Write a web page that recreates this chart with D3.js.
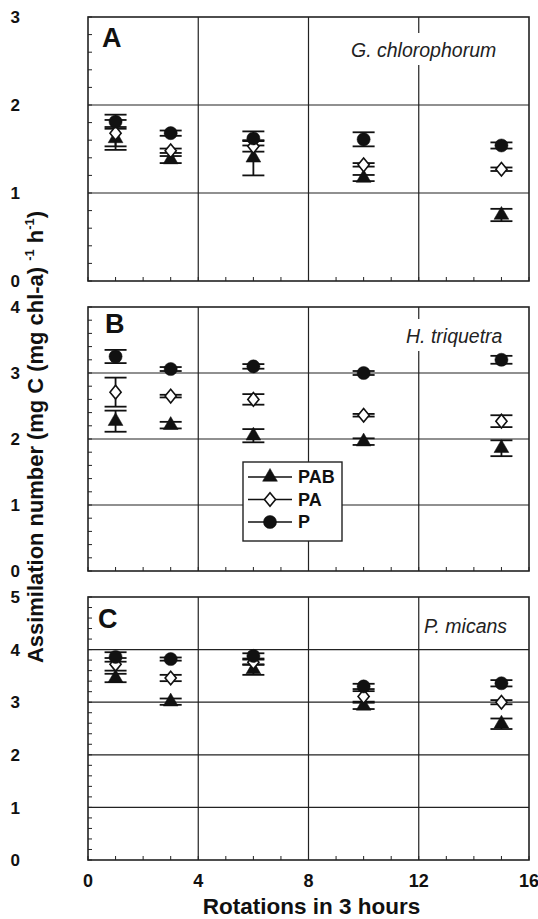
<!DOCTYPE html>
<html>
<head>
<meta charset="utf-8">
<script src="https://cdn.jsdelivr.net/npm/d3@7"></script>
<style>
  body { margin: 0; background: #fff; }
  svg { display: block; font-family: "Liberation Sans", Arial, sans-serif; }
</style>
</head>
<body>
<div id="chart"></div>
<script>
// data
const rotations = [1, 3, 6, 10, 15];
const panelLetters = ["A", "B", "C"];
const speciesNames = ["G. chlorophorum", "H. triquetra", "P. micans"];
const yMaxima = [3, 4, 5];
const xTicks = [0, 4, 8, 12, 16];
const seriesNames = ["PAB", "PA", "P"];

// per panel (A, B, C), one value per rotation
const pabMean = [[1.62, 1.38, 1.40, 1.17, 0.75], [2.27, 2.21, 2.05, 1.96, 1.86], [3.46, 3.01, 3.62, 2.93, 2.59]];
const pabErr  = [[0.13, 0.04, 0.20, 0.035, 0.07], [0.16, 0.05, 0.10, 0.05, 0.12], [0.08, 0.06, 0.10, 0.06, 0.10]];
const paMean  = [[1.68, 1.48, 1.53, 1.32, 1.27], [2.71, 2.65, 2.60, 2.36, 2.27], [3.72, 3.46, 3.76, 3.11, 3.00]];
const paErr   = [[0.15, 0.025, 0.06, 0.02, 0.02], [0.22, 0.02, 0.08, 0.02, 0.09], [0.12, 0.06, 0.05, 0.10, 0.04]];
const pMean   = [[1.81, 1.68, 1.62, 1.61, 1.54], [3.25, 3.06, 3.10, 3.00, 3.20], [3.86, 3.82, 3.88, 3.30, 3.36]];
const pErr    = [[0.08, 0.03, 0.08, 0.08, 0.035], [0.10, 0.03, 0.035, 0.03, 0.06], [0.09, 0.03, 0.05, 0.05, 0.06]];

const W = 538, H = 919;
const left = 88, right = 529;
const panelTops = [17, 307, 597];
const panelBottoms = [281, 571, 860];
const letterPos = [[102, 47], [105, 333], [98, 628]];
const speciesPos = [[351, 57], [406, 343], [424, 633]];

const svg = d3.select("#chart").append("svg")
  .attr("width", W).attr("height", H);

const x = d3.scaleLinear().domain([0, 16]).range([left, right]);

// upright diamond a bit taller than wide
const diamondTall = {
  draw(ctx, size) {
    const h = Math.sqrt(size) * 0.85, w = h * 0.82;
    ctx.moveTo(0, -h); ctx.lineTo(w, 0); ctx.lineTo(0, h); ctx.lineTo(-w, 0); ctx.closePath();
  }
};

const markerSymbol = {
  PAB: d3.symbol().type(d3.symbolTriangle).size(95),
  PA: d3.symbol().type(diamondTall).size(64),
  P: d3.symbol().type(d3.symbolCircle).size(135)
};
const markerFill = { PAB: "#111", PA: "#fff", P: "#111" };
const markerStroke = { PAB: 0.5, PA: 1.6, P: 0.5 };

panelLetters.forEach((letter, pi) => {
  const y = d3.scaleLinear().domain([0, yMaxima[pi]]).range([panelBottoms[pi], panelTops[pi]]);
  const g = svg.append("g");

  // grid
  const majors = d3.range(1, yMaxima[pi]);
  g.selectAll(".hgrid").data(majors).join("line")
    .attr("x1", left).attr("x2", right)
    .attr("y1", d => y(d)).attr("y2", d => y(d))
    .attr("stroke", "#222").attr("stroke-width", 1.2);
  g.selectAll(".vgrid").data([4, 8, 12]).join("line")
    .attr("x1", d => x(d)).attr("x2", d => x(d))
    .attr("y1", y.range()[1]).attr("y2", y.range()[0])
    .attr("stroke", "#222").attr("stroke-width", 1.2);

  // minor ticks inward
  const yMinor = d3.range(0, yMaxima[pi] + 0.001, 0.2);
  g.selectAll(".ytick").data(yMinor).join("line")
    .attr("x1", left).attr("x2", left + 4)
    .attr("y1", d => y(d)).attr("y2", d => y(d))
    .attr("stroke", "#222").attr("stroke-width", 1);
  g.selectAll(".xtick").data(d3.range(0, 17)).join("line")
    .attr("x1", d => x(d)).attr("x2", d => x(d))
    .attr("y1", y(0)).attr("y2", y(0) - 4)
    .attr("stroke", "#222").attr("stroke-width", 1);

  // species label with white box behind
  const sp = g.append("text")
    .attr("x", speciesPos[pi][0]).attr("y", speciesPos[pi][1])
    .attr("font-size", 19.5).attr("font-style", "italic")
    .attr("fill", "#222")
    .text(speciesNames[pi]);
  const bb = sp.node().getBBox();
  g.insert("rect", "text")
    .attr("x", bb.x - 4).attr("y", bb.y - 6)
    .attr("width", bb.width + 8).attr("height", bb.height + 10)
    .attr("fill", "#fff");

  // frame
  g.append("rect")
    .attr("x", left).attr("y", y.range()[1])
    .attr("width", right - left).attr("height", y.range()[0] - y.range()[1])
    .attr("fill", "none").attr("stroke", "#222").attr("stroke-width", 1.6);

  // panel letter
  g.append("text")
    .attr("x", letterPos[pi][0]).attr("y", letterPos[pi][1])
    .attr("font-size", 27).attr("font-weight", "bold").attr("fill", "#111")
    .text(letter);

  // y tick labels
  g.selectAll(".ylab").data(d3.range(0, yMaxima[pi] + 1)).join("text")
    .attr("x", 20).attr("y", d => y(d))
    .attr("dy", "0.36em")
    .attr("text-anchor", "end")
    .attr("font-size", 17).attr("font-weight", "bold").attr("fill", "#111")
    .text(d => d);

  // error bars and markers
  const series = [
    { name: "PAB", mean: pabMean[pi], err: pabErr[pi] },
    { name: "PA", mean: paMean[pi], err: paErr[pi] },
    { name: "P", mean: pMean[pi], err: pErr[pi] }
  ];
  series.forEach(s => {
    const pts = rotations.map((r, i) => ({ r, m: s.mean[i], e: s.err[i] }));
    const eb = g.append("g").attr("stroke", "#111").attr("stroke-width", 1.8);
    eb.selectAll(".stem").data(pts).join("line")
      .attr("x1", d => x(d.r)).attr("x2", d => x(d.r))
      .attr("y1", d => y(d.m - d.e)).attr("y2", d => y(d.m + d.e));
    eb.selectAll(".capT").data(pts).join("line")
      .attr("x1", d => x(d.r) - 11).attr("x2", d => x(d.r) + 11)
      .attr("y1", d => y(d.m + d.e)).attr("y2", d => y(d.m + d.e));
    eb.selectAll(".capB").data(pts).join("line")
      .attr("x1", d => x(d.r) - 11).attr("x2", d => x(d.r) + 11)
      .attr("y1", d => y(d.m - d.e)).attr("y2", d => y(d.m - d.e));
  });
  series.forEach(s => {
    const pts = rotations.map((r, i) => ({ r, m: s.mean[i] }));
    g.selectAll(".mk-" + s.name).data(pts).join("path")
      .attr("transform", d => `translate(${x(d.r)},${y(d.m)})`)
      .attr("d", markerSymbol[s.name])
      .attr("fill", markerFill[s.name])
      .attr("stroke", "#111")
      .attr("stroke-width", markerStroke[s.name]);
  });
});

// x tick labels
svg.selectAll(".xlab").data(xTicks).join("text")
  .attr("x", d => x(d)).attr("y", 887)
  .attr("text-anchor", "middle")
  .attr("font-size", 18).attr("font-weight", "bold").attr("fill", "#111")
  .text(d => d);

// x title
svg.append("text")
  .attr("x", (left + right) / 2 + 3).attr("y", 914)
  .attr("text-anchor", "middle")
  .attr("font-size", 22.5).attr("font-weight", "bold").attr("fill", "#111")
  .text("Rotations in 3 hours");

// y title (condensed in the original, so squeeze to its length)
const yt = svg.append("text")
  .attr("transform", "translate(43,437) rotate(-90)")
  .attr("text-anchor", "middle")
  .attr("font-family", "'Liberation Sans Narrow', 'Liberation Sans', Arial, sans-serif")
  .attr("font-size", 22).attr("font-weight", "bold").attr("fill", "#111")
  .attr("textLength", 452).attr("lengthAdjust", "spacingAndGlyphs");
yt.append("tspan").text("Assimilation number (mg C (mg chl-a) ");
yt.append("tspan").attr("font-size", 13).attr("dy", -9).text("-1");
yt.append("tspan").attr("dy", 9).text(" h");
yt.append("tspan").attr("font-size", 13).attr("dy", -9).text("-1");
yt.append("tspan").attr("dy", 9).text(")");

// legend in panel B
const lg = svg.append("g");
lg.append("rect")
  .attr("x", 243).attr("y", 462).attr("width", 99).attr("height", 79)
  .attr("fill", "#fff").attr("stroke", "#222").attr("stroke-width", 1.4);
const legendY = d3.scalePoint().domain(seriesNames).range([477, 522]);
seriesNames.forEach(name => {
  const ly = legendY(name);
  lg.append("line").attr("x1", 248).attr("x2", 292).attr("y1", ly).attr("y2", ly)
    .attr("stroke", "#111").attr("stroke-width", 1.6);
  lg.append("path")
    .attr("transform", `translate(270,${ly})`)
    .attr("d", markerSymbol[name])
    .attr("fill", markerFill[name])
    .attr("stroke", "#111")
    .attr("stroke-width", markerStroke[name]);
  lg.append("text").attr("x", 298).attr("y", ly).attr("dy", "0.36em")
    .attr("font-size", 18).attr("font-weight", "bold").attr("fill", "#111")
    .text(name);
});
</script>
</body>
</html>
